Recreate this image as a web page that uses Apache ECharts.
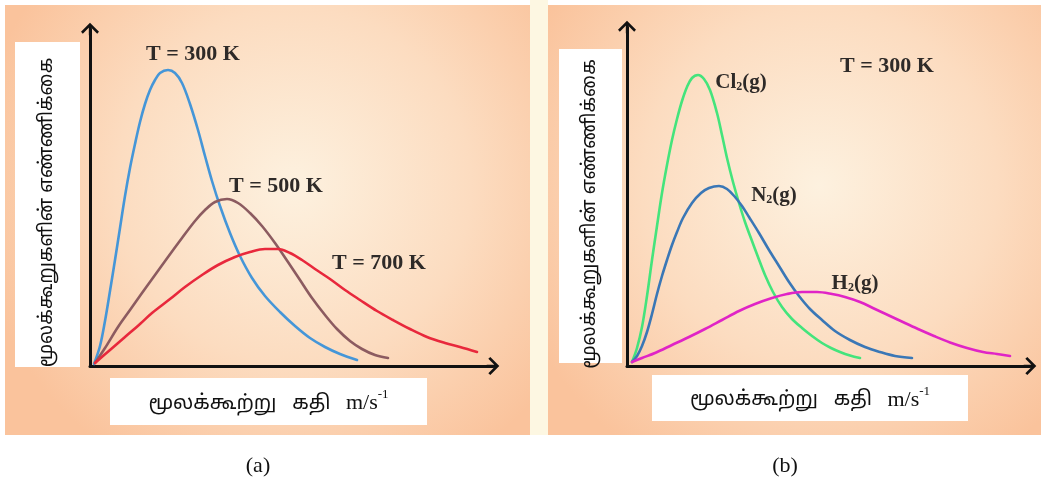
<!DOCTYPE html>
<html>
<head>
<meta charset="utf-8">
<script src="https://cdn.jsdelivr.net/npm/echarts@6/dist/echarts.min.js"></script>
<style>
  html, body { margin: 0; padding: 0; background: #ffffff; }
  #chart { width: 1041px; height: 480px; }
</style>
</head>
<body>
<div id="chart"></div>
<script>
// Molecular speed distributions (arbitrary speed units, relative counts)
// Panel (a): one gas at three temperatures
const speedT300 = [[4,2],[10,20],[15,45],[20,75],[25,106],[30,138],[35,170],[40,198],[45,222],[50,244],[55,262],[60,276],[65,286],[70,293],[78,296],[85,293],[92,283],[100,262],[108,236],[115,210],[122,185],[130,160],[140,133],[150,110],[162,88],[175,70],[190,54],[205,40],[220,28],[235,19],[250,12],[267,6]];
const speedT500 = [[5,3],[15,18],[28,39],[40,56],[52,73],[65,91],[78,109],[92,128],[105,145],[115,156],[125,164],[137,167],[148,163],[160,153],[172,140],[185,123],[198,104],[210,86],[222,68],[235,51],[247,37],[260,25],[272,17],[285,11],[298,8]];
const speedT700 = [[5,3],[20,16],[35,29],[50,42],[62,53],[80,67],[95,79],[112,91],[128,101],[145,109],[160,114],[175,117],[188,117],[200,113],[212,106],[225,97],[240,87],[255,76],[270,66],[287,55],[303,46],[320,37],[337,29],[355,23],[370,19],[387,14]];

// Panel (b): three gases at 300 K
const speedCl2 = [[5,4],[10,18],[15,39],[20,70],[25,106],[30,140],[35,173],[40,201],[45,226],[50,247],[55,265],[60,279],[65,288],[71,291],[77,287],[83,276],[90,253],[95,231],[100,208],[106,184],[112,163],[118,144],[125,125],[131,109],[138,91],[146,74],[155,59],[165,47],[175,38],[185,30],[195,23],[204,18],[213,14],[223,10.5],[233,8]];
const speedN2  = [[5,4],[10,10],[15,20],[20,34],[25,52],[30,72],[35,90],[40,106],[45,121],[50,134],[56,148],[65,163],[74,173],[82,178],[92,180],[100,177],[108,169],[115,160],[122,149],[132,133],[142,116],[152,100],[162,84],[172,70],[183,57],[195,46],[208,35],[223,26],[238,19],[253,14],[268,10],[285,8]];
const speedH2  = [[5,4],[15,8],[28,13],[45,21],[62,29],[78,37],[95,46],[112,55],[128,62],[145,68],[160,72],[175,74],[190,74],[205,72],[218,69],[233,64],[248,57],[263,50],[278,43],[290,37.5],[307,30],[323,23.5],[340,18],[356,14],[370,12],[383,10]];

const curveNamesA = ['T = 300 K', 'T = 500 K', 'T = 700 K'];
const curveNamesB = ['Cl2(g)', 'N2(g)', 'H2(g)'];
const yTitle = 'மூலக்கூறுகளின் எண்ணிக்கை';
const xTitle = 'மூலக்கூற்று   கதி   ';
const xUnit = 'm/s';
const panelCaptions = ['(a)', '(b)'];

const tamilFont = "'Noto Sans Tamil', 'Lohit Tamil', 'Latha', 'Noto Sans', sans-serif";
const serifFont = "'Liberation Serif', 'Times New Roman', 'DejaVu Serif', serif";
const labelColor = '#2e2a28';

// open chevron arrow head with a short stem, pointing up in symbol space
const arrowHead = 'path://M10,0 L20,10 L18,12.2 L10,4.2 L2,12.2 L0,10 Z M8.7,2 L11.3,2 L11.3,14 L8.7,14 Z';

function axisPair(gridIndex, xMax, yMax) {
  const line = {
    show: true,
    onZero: false,
    symbol: ['none', arrowHead],
    symbolSize: [18, 14],
    lineStyle: { color: '#111111', width: 3 }
  };
  return {
    x: {
      type: 'value', gridIndex, min: 0, max: xMax,
      axisLine: line, axisTick: { show: false }, axisLabel: { show: false }, splitLine: { show: false }
    },
    y: {
      type: 'value', gridIndex, min: 0, max: yMax,
      axisLine: line, axisTick: { show: false }, axisLabel: { show: false }, splitLine: { show: false }
    }
  };
}

const axA = axisPair(0, 403, 337);
const axB = axisPair(1, 403, 339);

function curve(name, data, color, idx) {
  return {
    name, type: 'line', data,
    xAxisIndex: idx, yAxisIndex: idx,
    smooth: 0.35, showSymbol: false, symbol: 'none',
    lineStyle: { color, width: 2.6, cap: 'round', join: 'round' },
    silent: true, z: 3
  };
}

const peachBg = {
  type: 'radial', x: 0.55, y: 0.42, r: 0.75,
  colorStops: [
    { offset: 0, color: '#fdf1df' },
    { offset: 0.55, color: '#fcdcc0' },
    { offset: 1, color: '#fac39c' }
  ]
};

function boldLabel(text, cx, cy, size) {
  return {
    type: 'text', x: cx, y: cy, z: 5,
    style: {
      text, font: 'bold ' + size + 'px ' + serifFont,
      fill: labelColor, align: 'center', verticalAlign: 'middle'
    }
  };
}

// gas labels with a lowered subscript digit
function gasLabel(name, cx, cy) {
  const m = name.match(/^([A-Za-z]+)(\d)(.*)$/);
  return {
    type: 'text', x: cx, y: cy, z: 5,
    style: {
      text: '{b|' + m[1] + '}{s|' + m[2] + '}{b|' + m[3] + '}',
      align: 'center', verticalAlign: 'middle',
      rich: {
        b: { fontFamily: serifFont, fontWeight: 'bold', fontSize: 21, fill: labelColor, color: labelColor, lineHeight: 24, verticalAlign: 'bottom' },
        s: { fontFamily: serifFont, fontWeight: 'bold', fontSize: 12, fill: labelColor, color: labelColor, lineHeight: 24, verticalAlign: 'bottom' }
      }
    }
  };
}

function yTitleBox(x, y, w, h) {
  return [
    { type: 'rect', shape: { x, y, width: w, height: h }, style: { fill: '#ffffff' }, z: 4 },
    {
      type: 'text', x: x + w / 2 + 1, y: y + h / 2 + 8, rotation: Math.PI / 2, z: 5,
      style: { text: yTitle, font: '19px ' + tamilFont, fill: '#111111', align: 'center', verticalAlign: 'middle' }
    }
  ];
}

function xTitleBox(x, y, w, h) {
  return [
    { type: 'rect', shape: { x, y, width: w, height: h }, style: { fill: '#ffffff' }, z: 4 },
    {
      type: 'text', x: x + w / 2, y: y + h / 2, z: 5,
      style: {
        text: '{t|' + xTitle + '}{u|' + xUnit + '}{p|-1}',
        align: 'center', verticalAlign: 'middle',
        rich: {
          t: { fontFamily: tamilFont, fontSize: 20, fill: '#111111', color: '#111111', lineHeight: 26, verticalAlign: 'bottom' },
          u: { fontFamily: serifFont, fontSize: 22, fill: '#111111', color: '#111111', lineHeight: 26, verticalAlign: 'bottom' },
          p: { fontFamily: serifFont, fontSize: 13, fill: '#111111', color: '#111111', lineHeight: 26, verticalAlign: 'top' }
        }
      }
    }
  ];
}

const chart = echarts.init(document.getElementById('chart'), null, { renderer: 'canvas' });

chart.setOption({
  backgroundColor: '#ffffff',
  animation: false,
  grid: [
    { left: 90, top: 29, width: 403, height: 337 },
    { left: 627, top: 27, width: 403, height: 339 }
  ],
  xAxis: [axA.x, axB.x],
  yAxis: [axA.y, axB.y],
  series: [
    curve(curveNamesA[0], speedT300, '#4596d8', 0),
    curve(curveNamesA[1], speedT500, '#8c5b60', 0),
    curve(curveNamesA[2], speedT700, '#e8283c', 0),
    curve(curveNamesB[0], speedCl2, '#44e47c', 1),
    curve(curveNamesB[1], speedN2, '#3a77b6', 1),
    curve(curveNamesB[2], speedH2, '#e024c6', 1)
  ],
  graphic: { elements: [
    // panel backgrounds and the pale strip between them
    { type: 'rect', shape: { x: 5, y: 5, width: 525, height: 430 }, style: { fill: peachBg }, z: -10 },
    { type: 'rect', shape: { x: 530, y: 0, width: 18, height: 435 }, style: { fill: '#fdf7e2' }, z: -10 },
    { type: 'rect', shape: { x: 548, y: 5, width: 493, height: 430 }, style: { fill: peachBg }, z: -10 },

    ...yTitleBox(15, 42, 65, 325),
    ...xTitleBox(110, 378, 317, 47),
    ...yTitleBox(559, 49, 63, 314),
    ...xTitleBox(652, 375, 316, 46),

    boldLabel(curveNamesA[0], 193, 54, 22),
    boldLabel(curveNamesA[1], 276, 186, 22),
    boldLabel(curveNamesA[2], 379, 263, 22),
    boldLabel('T = 300 K', 887, 66, 22),
    gasLabel(curveNamesB[0], 741, 81),
    gasLabel(curveNamesB[1], 774, 194),
    gasLabel(curveNamesB[2], 855, 282),

    { type: 'text', x: 258, y: 466, style: { text: panelCaptions[0], font: '22px ' + serifFont, fill: '#111111', align: 'center', verticalAlign: 'middle' } },
    { type: 'text', x: 785, y: 466, style: { text: panelCaptions[1], font: '22px ' + serifFont, fill: '#111111', align: 'center', verticalAlign: 'middle' } }
  ] }
});
</script>
</body>
</html>
